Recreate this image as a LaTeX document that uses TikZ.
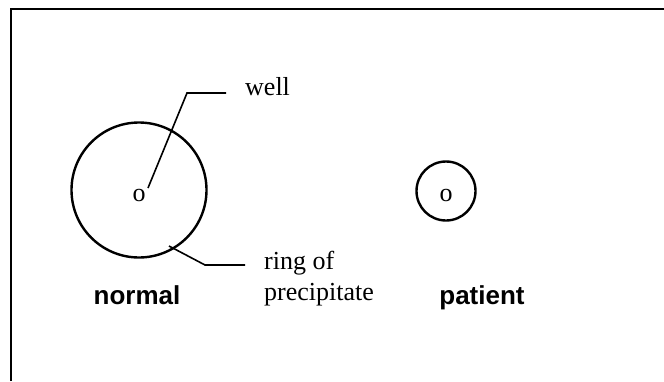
\documentclass[tikz,border=0pt]{standalone}
\usepackage{fontspec}
\setmainfont{Liberation Serif}
\newfontfamily\labelfont{Liberation Sans}
\begin{document}
\begin{tikzpicture}[x=1pt, y=-1pt,
  wellring/.style={circle, draw, line width=2.4pt, inner sep=0pt},
  lead/.style={line width=1.6pt},
  txt/.style={font=\fontsize{26}{31}\selectfont, inner sep=0pt},
  caption/.style={font=\labelfont\bfseries\fontsize{26}{31}\selectfont, inner sep=0pt}]

\useasboundingbox (0,0) rectangle (664,381);

\draw [line width=2pt] (11,381) -- (11,9) -- (664,9);

\draw (139,190) node (normal) [wellring, minimum size=135pt] {};
\draw (139,195) node (normalwell) [txt] {o};

\draw (446,191) node (patient) [wellring, minimum size=59pt] {};
\draw (446,195) node (patientwell) [txt] {o};

\draw (245,95) node (welltext) [txt, anchor=base west] {well};
\draw (264,300) node (ringtext) [txt, anchor=base west, align=left] {ring of\\precipitate};

\draw (137,304) node (normallabel) [caption, anchor=base] {normal};
\draw (482,304) node (patientlabel) [caption, anchor=base] {patient};

\draw [lead] (148,188) coordinate (a) -- (187,93) coordinate (b) -- (226,93) coordinate (c);
\draw [lead] (169,246) coordinate (d) -- (205,265) coordinate (e) -- (245,265) coordinate (f);

\end{tikzpicture}
\end{document}
